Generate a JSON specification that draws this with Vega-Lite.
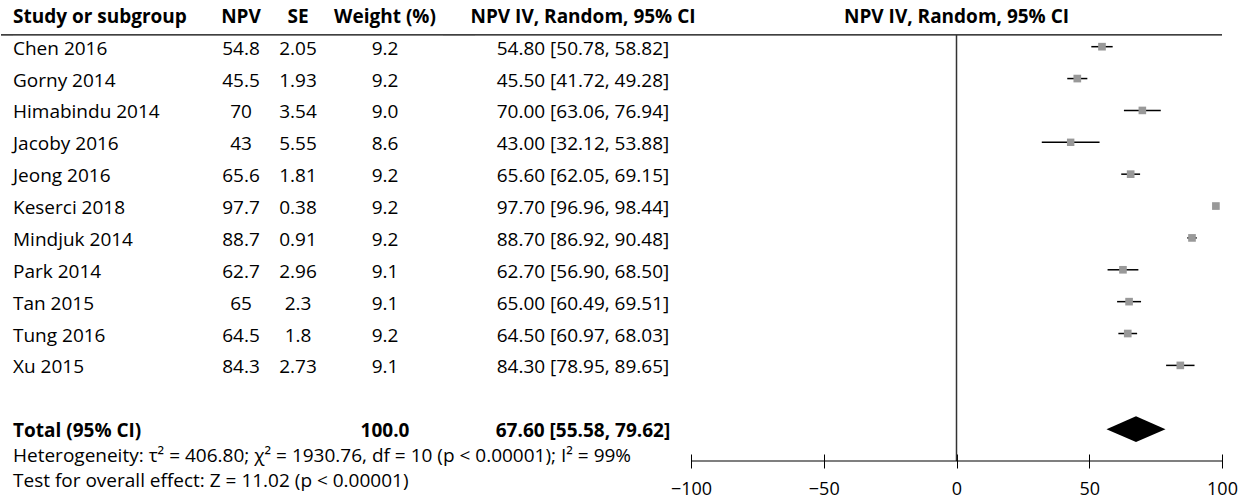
{
  "$schema": "https://vega.github.io/schema/vega-lite/v6.json",
  "padding": 0,
  "spacing": 0,
  "bounds": "flush",
  "config": {
    "view": {"stroke": null},
    "concat": {"spacing": 0},
    "text": {"font": "Open Sans", "fontSize": 19, "color": "#000", "baseline": "alphabetic", "dy": 8}
  },
  "datasets": {
    "studies": [
      {"row": 0, "study": "Chen 2016", "npv": 54.8, "se": 2.05, "weight": 9.2, "lo": 50.78, "hi": 58.82, "ci_t": "54.80 [50.78, 58.82]"},
      {"row": 1, "study": "Gorny 2014", "npv": 45.5, "se": 1.93, "weight": 9.2, "lo": 41.72, "hi": 49.28, "ci_t": "45.50 [41.72, 49.28]"},
      {"row": 2, "study": "Himabindu 2014", "npv": 70, "se": 3.54, "weight": 9.0, "lo": 63.06, "hi": 76.94, "ci_t": "70.00 [63.06, 76.94]"},
      {"row": 3, "study": "Jacoby 2016", "npv": 43, "se": 5.55, "weight": 8.6, "lo": 32.12, "hi": 53.88, "ci_t": "43.00 [32.12, 53.88]"},
      {"row": 4, "study": "Jeong 2016", "npv": 65.6, "se": 1.81, "weight": 9.2, "lo": 62.05, "hi": 69.15, "ci_t": "65.60 [62.05, 69.15]"},
      {"row": 5, "study": "Keserci 2018", "npv": 97.7, "se": 0.38, "weight": 9.2, "lo": 96.96, "hi": 98.44, "ci_t": "97.70 [96.96, 98.44]"},
      {"row": 6, "study": "Mindjuk 2014", "npv": 88.7, "se": 0.91, "weight": 9.2, "lo": 86.92, "hi": 90.48, "ci_t": "88.70 [86.92, 90.48]"},
      {"row": 7, "study": "Park 2014", "npv": 62.7, "se": 2.96, "weight": 9.1, "lo": 56.90, "hi": 68.50, "ci_t": "62.70 [56.90, 68.50]"},
      {"row": 8, "study": "Tan 2015", "npv": 65, "se": 2.3, "weight": 9.1, "lo": 60.49, "hi": 69.51, "ci_t": "65.00 [60.49, 69.51]"},
      {"row": 9, "study": "Tung 2016", "npv": 64.5, "se": 1.8, "weight": 9.2, "lo": 60.97, "hi": 68.03, "ci_t": "64.50 [60.97, 68.03]"},
      {"row": 10, "study": "Xu 2015", "npv": 84.3, "se": 2.73, "weight": 9.1, "lo": 78.95, "hi": 89.65, "ci_t": "84.30 [78.95, 89.65]"}
    ],
    "total": [
      {"row": 12, "label": "Total (95% CI)", "weight": 100.0, "est": 67.6, "lo": 55.58, "hi": 79.62, "ci_t": "67.60 [55.58, 79.62]",
       "het": "Heterogeneity: τ² = 406.80; χ² = 1930.76, df = 10 (p < 0.00001); I² = 99%",
       "test": "Test for overall effect: Z = 11.02 (p < 0.00001)"}
    ],
    "headers": [
      {"row": -1, "column": "study", "label": "Study or subgroup"},
      {"row": -1, "column": "npv", "label": "NPV"},
      {"row": -1, "column": "se", "label": "SE"},
      {"row": -1, "column": "weight", "label": "Weight (%)"},
      {"row": -1, "column": "ci", "label": "NPV IV, Random, 95% CI"},
      {"row": -1, "column": "forest", "label": "NPV IV, Random, 95% CI"}
    ],
    "one": [{"item": "header line"}]
  },
  "hconcat": [
    {
      "width": 12, "height": 461,
      "data": {"name": "one"},
      "mark": {"type": "rule", "color": "#000", "strokeWidth": 1.3},
      "encoding": {"y": {"datum": -0.37, "type": "quantitative", "scale": {"domain": [-1.465, 13], "reverse": true, "nice": false, "zero": false}, "axis": null}}
    },
    {
      "width": 200, "height": 461,
      "layer": [
        {"data": {"name": "one"}, "mark": {"type": "rule", "color": "#000", "strokeWidth": 1.3},
         "encoding": {"y": {"datum": -0.37, "type": "quantitative", "scale": {"domain": [-1.465, 13], "reverse": true, "nice": false, "zero": false}, "axis": null}}},
        {"data": {"name": "headers"}, "transform": [{"filter": "datum.column === 'study'"}],
         "mark": {"type": "text", "align": "left", "fontWeight": "bold"},
         "encoding": {"x": {"datum": "c", "type": "nominal", "scale": {"type": "point", "align": 0}, "axis": null},
                      "y": {"field": "row", "type": "quantitative", "axis": null}, "text": {"field": "label"}}},
        {"data": {"name": "studies"},
         "mark": {"type": "text", "align": "left"},
         "encoding": {"x": {"datum": "c", "type": "nominal", "axis": null},
                      "y": {"field": "row", "type": "quantitative", "axis": null}, "text": {"field": "study"}}},
        {"data": {"name": "total"},
         "mark": {"type": "text", "align": "left", "fontWeight": "bold"},
         "encoding": {"x": {"datum": "c", "type": "nominal", "axis": null},
                      "y": {"field": "row", "type": "quantitative", "axis": null}, "text": {"field": "label"}}},
        {"data": {"name": "total"},
         "mark": {"type": "text", "align": "left", "dy": 33},
         "encoding": {"x": {"datum": "c", "type": "nominal", "axis": null},
                      "y": {"field": "row", "type": "quantitative", "axis": null}, "text": {"field": "het"}}},
        {"data": {"name": "total"},
         "mark": {"type": "text", "align": "left", "dy": 58},
         "encoding": {"x": {"datum": "c", "type": "nominal", "axis": null},
                      "y": {"field": "row", "type": "quantitative", "axis": null}, "text": {"field": "test"}}}
      ]
    },
    {
      "width": 56, "height": 461,
      "layer": [
        {"data": {"name": "one"}, "mark": {"type": "rule", "color": "#000", "strokeWidth": 1.3},
         "encoding": {"y": {"datum": -0.37, "type": "quantitative", "scale": {"domain": [-1.465, 13], "reverse": true, "nice": false, "zero": false}, "axis": null}}},
        {"data": {"name": "headers"}, "transform": [{"filter": "datum.column === 'npv'"}],
         "mark": {"type": "text", "fontWeight": "bold"},
         "encoding": {"y": {"field": "row", "type": "quantitative", "axis": null}, "text": {"field": "label"}}},
        {"data": {"name": "studies"},
         "mark": {"type": "text"},
         "encoding": {"y": {"field": "row", "type": "quantitative", "axis": null}, "text": {"field": "npv", "type": "quantitative"}}}
      ]
    },
    {
      "width": 58, "height": 461,
      "layer": [
        {"data": {"name": "one"}, "mark": {"type": "rule", "color": "#000", "strokeWidth": 1.3},
         "encoding": {"y": {"datum": -0.37, "type": "quantitative", "scale": {"domain": [-1.465, 13], "reverse": true, "nice": false, "zero": false}, "axis": null}}},
        {"data": {"name": "headers"}, "transform": [{"filter": "datum.column === 'se'"}],
         "mark": {"type": "text", "fontWeight": "bold"},
         "encoding": {"y": {"field": "row", "type": "quantitative", "axis": null}, "text": {"field": "label"}}},
        {"data": {"name": "studies"},
         "mark": {"type": "text"},
         "encoding": {"y": {"field": "row", "type": "quantitative", "axis": null}, "text": {"field": "se", "type": "quantitative"}}}
      ]
    },
    {
      "width": 116, "height": 461,
      "layer": [
        {"data": {"name": "one"}, "mark": {"type": "rule", "color": "#000", "strokeWidth": 1.3},
         "encoding": {"y": {"datum": -0.37, "type": "quantitative", "scale": {"domain": [-1.465, 13], "reverse": true, "nice": false, "zero": false}, "axis": null}}},
        {"data": {"name": "headers"}, "transform": [{"filter": "datum.column === 'weight'"}],
         "mark": {"type": "text", "fontWeight": "bold"},
         "encoding": {"y": {"field": "row", "type": "quantitative", "axis": null}, "text": {"field": "label"}}},
        {"data": {"name": "studies"},
         "mark": {"type": "text"},
         "encoding": {"y": {"field": "row", "type": "quantitative", "axis": null}, "text": {"field": "weight", "type": "quantitative", "format": ".1f"}}},
        {"data": {"name": "total"},
         "mark": {"type": "text", "fontWeight": "bold"},
         "encoding": {"y": {"field": "row", "type": "quantitative", "axis": null}, "text": {"field": "weight", "type": "quantitative", "format": ".1f"}}}
      ]
    },
    {
      "width": 32, "height": 461,
      "data": {"name": "one"},
      "mark": {"type": "rule", "color": "#000", "strokeWidth": 1.3},
      "encoding": {"y": {"datum": -0.37, "type": "quantitative", "scale": {"domain": [-1.465, 13], "reverse": true, "nice": false, "zero": false}, "axis": null}}
    },
    {
      "width": 216, "height": 461,
      "layer": [
        {"data": {"name": "one"}, "mark": {"type": "rule", "color": "#000", "strokeWidth": 1.3},
         "encoding": {"y": {"datum": -0.37, "type": "quantitative", "scale": {"domain": [-1.465, 13], "reverse": true, "nice": false, "zero": false}, "axis": null}}},
        {"data": {"name": "headers"}, "transform": [{"filter": "datum.column === 'ci'"}],
         "mark": {"type": "text", "fontWeight": "bold"},
         "encoding": {"y": {"field": "row", "type": "quantitative", "axis": null}, "text": {"field": "label"}}},
        {"data": {"name": "studies"},
         "mark": {"type": "text"},
         "encoding": {"y": {"field": "row", "type": "quantitative", "axis": null}, "text": {"field": "ci_t"}}},
        {"data": {"name": "total"},
         "mark": {"type": "text", "fontWeight": "bold"},
         "encoding": {"y": {"field": "row", "type": "quantitative", "axis": null}, "text": {"field": "ci_t"}}}
      ]
    },
    {
      "width": 531, "height": 461,
      "layer": [
        {"data": {"name": "one"}, "mark": {"type": "rule", "color": "#000", "strokeWidth": 1.3},
         "encoding": {"y": {"datum": -0.37, "type": "quantitative", "scale": {"domain": [-1.465, 13], "reverse": true, "nice": false, "zero": false}, "axis": null}}},
        {"data": {"name": "headers"}, "transform": [{"filter": "datum.column === 'forest'"}],
         "mark": {"type": "text", "fontWeight": "bold"},
         "encoding": {"y": {"field": "row", "type": "quantitative", "axis": null}, "text": {"field": "label"}}},
        {"data": {"name": "one"},
         "mark": {"type": "rule", "color": "#333", "strokeWidth": 1.5},
         "encoding": {
           "x": {"datum": 0, "type": "quantitative",
                 "scale": {"domain": [-100, 100], "nice": false, "zero": false},
                 "axis": {"values": [-100, -50, 0, 50, 100], "title": null, "domain": false, "grid": false,
                          "ticks": true, "tickSize": 14, "offset": -7, "tickColor": "#000", "tickWidth": 1,
                          "labelFont": "Open Sans", "labelFontSize": 18, "labelColor": "#000", "labelPadding": 12,
                          "labelFlush": false, "labelOverlap": false}},
           "y": {"datum": -0.37, "type": "quantitative", "axis": null},
           "y2": {"datum": 13}}},
        {"data": {"name": "one"},
         "mark": {"type": "rule", "color": "#000", "strokeWidth": 1.2},
         "encoding": {"x": {"datum": -100, "type": "quantitative", "title": null}, "x2": {"datum": 100},
                      "y": {"datum": 13, "type": "quantitative", "axis": null}}},
        {"data": {"name": "studies"},
         "mark": {"type": "rule", "color": "#000", "strokeWidth": 1.5},
         "encoding": {"x": {"field": "lo", "type": "quantitative", "title": null}, "x2": {"field": "hi"},
                      "y": {"field": "row", "type": "quantitative", "axis": null}}},
        {"data": {"name": "studies"},
         "mark": {"type": "point", "shape": "square", "filled": true, "color": "#999", "opacity": 1},
         "encoding": {"x": {"field": "npv", "type": "quantitative", "title": null},
                      "y": {"field": "row", "type": "quantitative", "axis": null},
                      "size": {"field": "weight", "type": "quantitative", "scale": {"domain": [0, 10], "range": [0, 64]}, "legend": null}}},
        {"data": {"name": "total"},
         "mark": {"type": "point", "shape": "M-1,0L0,-0.44L1,0L0,0.44Z", "filled": true, "color": "#000", "opacity": 1, "size": 3481},
         "encoding": {"x": {"field": "est", "type": "quantitative", "title": null},
                      "y": {"field": "row", "type": "quantitative", "axis": null}}}
      ]
    }
  ]
}
